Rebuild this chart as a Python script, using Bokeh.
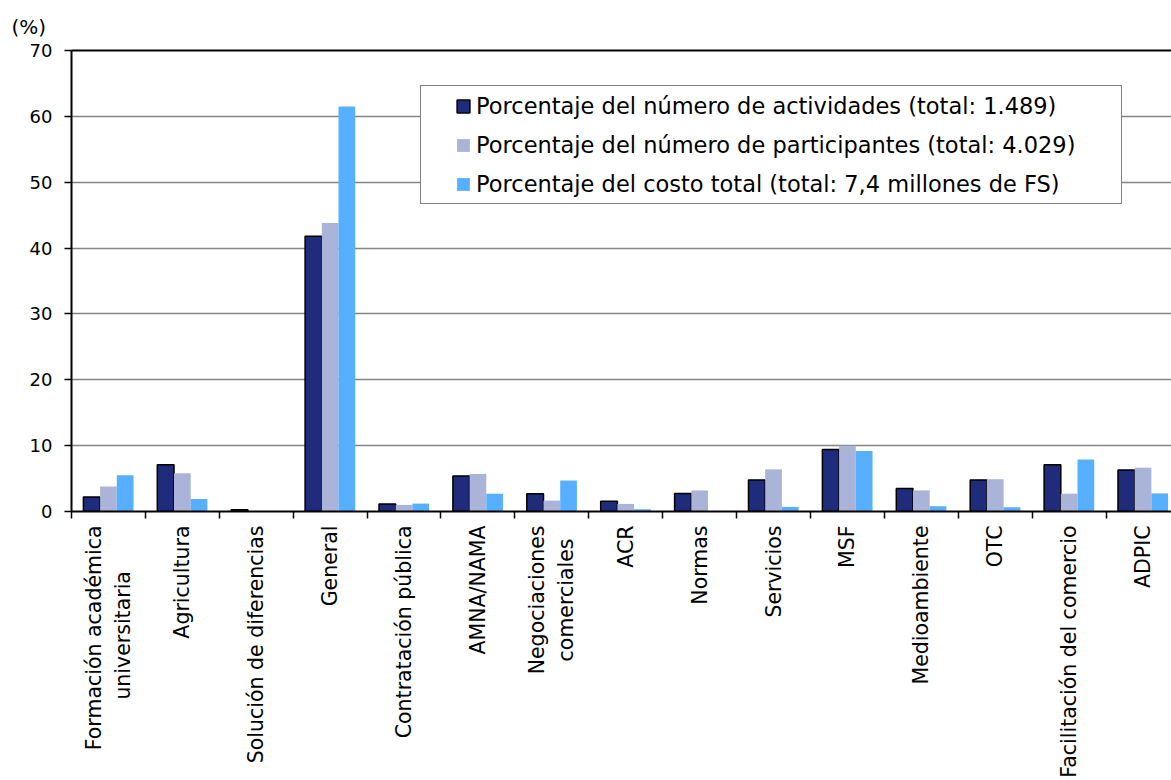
import numpy as np
from bokeh.plotting import figure
from bokeh.models import (Range1d, FixedTicker, LinearAxis, Legend, LegendItem,
                          Title, ColumnDataSource)
from bokeh.embed import file_html
from bokeh.resources import INLINE

# ---------------- data ----------------
categories = [
    "Formación académica\nuniversitaria       ",
    "Agricultura",
    "Solución de diferencias",
    "General",
    "Contratación pública",
    "AMNA/NAMA",
    "Negociaciones\ncomerciales  ",
    "ACR",
    "Normas",
    "Servicios",
    "MSF",
    "Medioambiente",
    "OTC",
    "Facilitación del comercio",
    "ADPIC",
]
actividades = [2.2, 7.1, 0.25, 41.8, 1.15, 5.4, 2.7, 1.55, 2.75, 4.8, 9.4, 3.5, 4.8, 7.1, 6.3]
participantes = [3.8, 5.8, 0.0, 43.8, 1.0, 5.7, 1.65, 1.15, 3.2, 6.4, 10.0, 3.2, 4.9, 2.7, 6.65]
costo = [5.5, 1.9, 0.0, 61.5, 1.2, 2.7, 4.7, 0.35, 0.0, 0.7, 9.2, 0.8, 0.65, 7.9, 2.75]
series_names = [
    "Porcentaje del número de actividades (total: 1.489)",
    "Porcentaje del número de participantes (total: 4.029)",
    "Porcentaje del costo total (total: 7,4 millones de FS)",
]
series_colors = ["#1F2B7B", "#AAB3D8", "#56B0FF"]
y_ticks = [0, 10, 20, 30, 40, 50, 60, 70]
y_unit = "(%)"

FONT = "DejaVu Sans"
n = len(categories)
idx = np.arange(n)
bar_w = 0.226

p = figure(width=1171, height=780, output_backend="svg", toolbar_location=None,
           x_range=Range1d(-0.5, 14.385), y_range=Range1d(0, 70),
           min_border_left=71, min_border_right=0, min_border_top=50,
           min_border_bottom=267)
p.outline_line_color = None
p.background_fill_color = "white"
p.border_fill_color = "white"

# bars
series = [actividades, participantes, costo]
bar_renderers = []
for k, (vals, color) in enumerate(zip(series, series_colors)):
    src = ColumnDataSource(dict(x=idx + (k - 1) * bar_w, top=vals))
    r = p.vbar(x="x", top="top", width=bar_w, source=src, fill_color=color,
               line_color="black" if k == 0 else None, line_width=1.5)
    bar_renderers.append(r)

# grid
p.xgrid.visible = False
p.ygrid.ticker = FixedTicker(ticks=y_ticks[1:-1])
p.ygrid.grid_line_color = "#858585"
p.ygrid.grid_line_width = 1.6

# y axis
p.yaxis.ticker = FixedTicker(ticks=y_ticks, minor_ticks=[])
p.yaxis.major_tick_out = 7
p.yaxis.major_tick_in = 0
p.yaxis.major_tick_line_width = 1.5
p.yaxis.axis_line_width = 2
p.yaxis.major_label_text_font = FONT
p.yaxis.major_label_text_font_size = "18px"
p.yaxis.major_label_text_color = "black"
p.yaxis.major_label_standoff = 12

# x axis
p.xaxis.ticker = FixedTicker(ticks=[int(i) for i in idx],
                             minor_ticks=[float(i) - 0.5 for i in idx] + [n - 0.5])
p.xaxis.major_label_overrides = {int(i): c for i, c in enumerate(categories)}
p.xaxis.major_label_orientation = np.pi / 2
p.xaxis.major_tick_line_color = None
p.xaxis.major_tick_out = 0
p.xaxis.major_tick_in = 0
p.xaxis.minor_tick_out = 7
p.xaxis.minor_tick_in = 0
p.xaxis.minor_tick_line_color = "black"
p.xaxis.minor_tick_line_width = 1.5
p.xaxis.axis_line_width = 2
p.xaxis.major_label_standoff = 7
p.xaxis.major_label_text_font = FONT
p.xaxis.major_label_text_font_size = "20.5px"
p.xaxis.major_label_text_color = "black"

# top border line
top_axis = LinearAxis(ticker=FixedTicker(ticks=[]), major_tick_out=0, major_tick_in=0,
                      minor_tick_out=0, minor_tick_in=0, major_label_standoff=0,
                      axis_line_width=2, axis_line_color="black")
p.add_layout(top_axis, "above")

# unit label (as a title above the frame, shifted to the left margin)
p.add_layout(Title(text=y_unit, align="left", offset=-60, standoff=23,
                   text_font=FONT, text_font_size="20px", text_font_style="normal",
                   text_color="black"), "above")

# legend
items = [LegendItem(label=name, renderers=[r])
         for name, r in zip(series_names, bar_renderers)]
legend = Legend(items=items, location=(349, 307), padding=3, spacing=6, margin=0,
                glyph_width=16, glyph_height=16, label_standoff=5, label_width=642,
                label_height=33, label_text_font=FONT, label_text_font_size="22.5px",
                label_text_color="black", border_line_color="black",
                border_line_width=1.5, background_fill_color="white",
                background_fill_alpha=1.0,
                title=" ", title_location="left", title_standoff=30,
                title_text_font_size="1px")
p.add_layout(legend)

open("out.html", "w").write(file_html(p, INLINE))
